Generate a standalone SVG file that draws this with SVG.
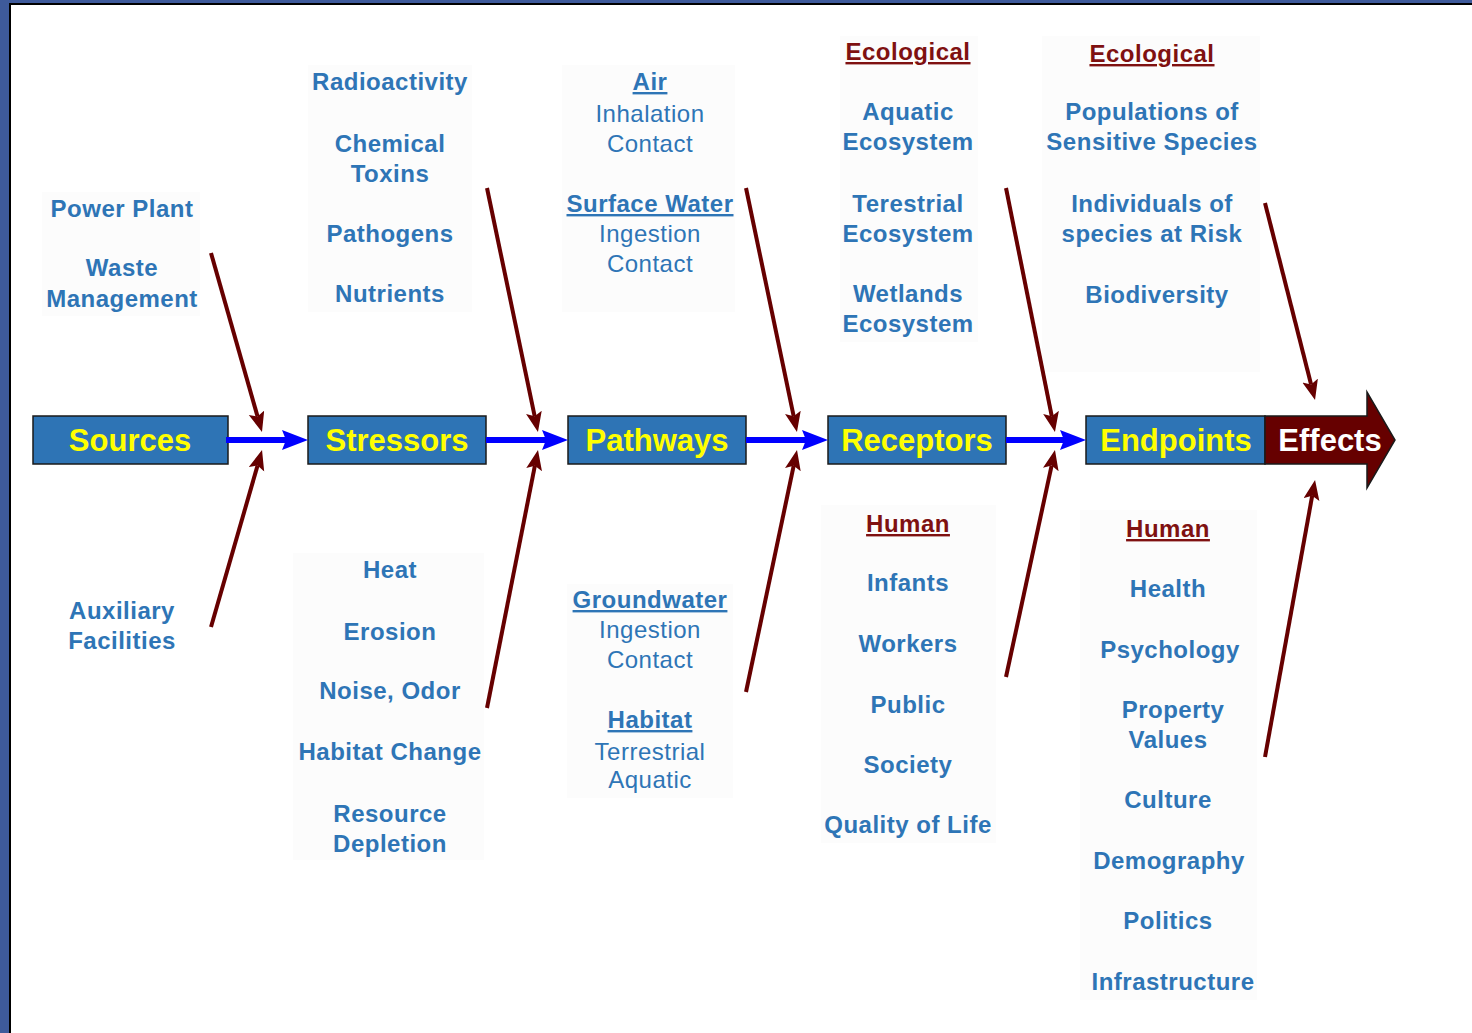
<svg xmlns="http://www.w3.org/2000/svg" width="1472" height="1033" viewBox="0 0 1472 1033">
<defs>
<style>
.t{font-family:"Liberation Sans",Arial,sans-serif;font-size:24px;font-weight:bold;fill:#2e75b6;text-anchor:middle;letter-spacing:0.5px}
.r{font-weight:normal}
.u{text-decoration:underline}
.h{fill:#7f1111}
.box{fill:#2e74b5;stroke:#1a1a1a;stroke-width:1.5}
.bl{font-family:"Liberation Sans",Arial,sans-serif;font-size:31px;font-weight:bold;fill:#ffff00;text-anchor:middle}
.bg{fill:#fcfcfc}
.blue{stroke:#0000ff;stroke-width:6;fill:none;marker-end:url(#ab)}
.red{stroke:#660000;stroke-width:4;fill:none;marker-end:url(#ar)}
</style>
<marker id="ab" markerUnits="userSpaceOnUse" markerWidth="30" markerHeight="24" refX="6" refY="10" orient="auto" viewBox="0 0 30 24">
<path d="M0,0 L26,10 L0,20 L4,10 z" fill="#0000ff"/>
</marker>
<marker id="ar" markerUnits="userSpaceOnUse" markerWidth="24" markerHeight="20" refX="4" refY="8" orient="auto" viewBox="0 0 24 20">
<path d="M0,0 L20,8 L0,16 L4,8 z" fill="#660000"/>
</marker>
</defs>
<rect x="0" y="0" width="1472" height="1033" fill="#3e5a9b"/>
<rect x="9" y="3" width="1463" height="1030" fill="#000"/>
<rect x="11" y="5" width="1461" height="1028" fill="#fff"/>

<g id="backgrounds">
<rect class="bg" x="42" y="192" width="158" height="124"/>
<rect class="bg" x="308" y="65" width="164" height="247"/>
<rect class="bg" x="562" y="65" width="173" height="247"/>
<rect class="bg" x="840" y="36" width="138" height="306"/>
<rect class="bg" x="1042" y="36" width="218" height="336"/>
<rect class="bg" x="293" y="553" width="191" height="307"/>
<rect class="bg" x="567" y="584" width="166" height="214"/>
<rect class="bg" x="821" y="505" width="175" height="338"/>
<rect class="bg" x="1080" y="510" width="177" height="490"/>
</g>

<g id="sources">
<rect class="box" x="33" y="416" width="195" height="48"/>
<text class="bl" x="130" y="451">Sources</text>
</g>
<g id="stressors">
<rect class="box" x="308" y="416" width="178" height="48"/>
<text class="bl" x="397" y="451">Stressors</text>
</g>
<g id="pathways">
<rect class="box" x="568" y="416" width="178" height="48"/>
<text class="bl" x="657" y="451">Pathways</text>
</g>
<g id="receptors">
<rect class="box" x="828" y="416" width="178" height="48"/>
<text class="bl" x="917" y="451">Receptors</text>
</g>
<g id="endpoints">
<rect class="box" x="1086" y="416" width="179" height="48"/>
<text class="bl" x="1176" y="451">Endpoints</text>
</g>
<g id="effects">
<path d="M1265,416 L1367,416 L1367,392 L1395,440 L1367,488 L1367,464 L1265,464 z" fill="#660000" stroke="#1a1a1a" stroke-width="1.5"/>
<text class="bl" x="1330" y="451" style="fill:#fff">Effects</text>
</g>

<g id="connectors">
<line class="blue" x1="226" y1="440" x2="288" y2="440"/>
<line class="blue" x1="486" y1="440" x2="548" y2="440"/>
<line class="blue" x1="746" y1="440" x2="808" y2="440"/>
<line class="blue" x1="1006" y1="440" x2="1066" y2="440"/>
<line class="red" x1="211" y1="253" x2="257.6" y2="416.6"/>
<line class="red" x1="211" y1="627" x2="257.6" y2="465.4"/>
<line class="red" x1="487" y1="188" x2="534.7" y2="416.3"/>
<line class="red" x1="487" y1="708" x2="534.9" y2="465.7"/>
<line class="red" x1="746" y1="188" x2="793.7" y2="416.3"/>
<line class="red" x1="746" y1="692" x2="793.7" y2="465.7"/>
<line class="red" x1="1006" y1="188" x2="1051.8" y2="416.3"/>
<line class="red" x1="1006" y1="677" x2="1051.6" y2="465.6"/>
<line class="red" x1="1265" y1="203" x2="1311.1" y2="384.5"/>
<line class="red" x1="1265" y1="757" x2="1312.2" y2="495.7"/>
</g>

<g id="sources-items">
<text class="t" x="122" y="217">Power Plant</text>
<text class="t" x="122" y="276">Waste</text>
<text class="t" x="122" y="307">Management</text>
<text class="t" x="122" y="619">Auxiliary</text>
<text class="t" x="122" y="649">Facilities</text>
</g>

<g id="stressors-items">
<text class="t" x="390" y="90">Radioactivity</text>
<text class="t" x="390" y="152">Chemical</text>
<text class="t" x="390" y="182">Toxins</text>
<text class="t" x="390" y="242">Pathogens</text>
<text class="t" x="390" y="302">Nutrients</text>
<text class="t" x="390" y="578">Heat</text>
<text class="t" x="390" y="640">Erosion</text>
<text class="t" x="390" y="699">Noise, Odor</text>
<text class="t" x="390" y="760">Habitat Change</text>
<text class="t" x="390" y="822">Resource</text>
<text class="t" x="390" y="852">Depletion</text>
</g>

<g id="pathways-items">
<text class="t u" x="650" y="90">Air</text>
<text class="t r" x="650" y="122">Inhalation</text>
<text class="t r" x="650" y="152">Contact</text>
<text class="t u" x="650" y="212">Surface Water</text>
<text class="t r" x="650" y="242">Ingestion</text>
<text class="t r" x="650" y="272">Contact</text>
<text class="t u" x="650" y="608">Groundwater</text>
<text class="t r" x="650" y="638">Ingestion</text>
<text class="t r" x="650" y="668">Contact</text>
<text class="t u" x="650" y="728">Habitat</text>
<text class="t r" x="650" y="760">Terrestrial</text>
<text class="t r" x="650" y="788">Aquatic</text>
</g>

<g id="receptors-items">
<text class="t u h" x="908" y="60">Ecological</text>
<text class="t" x="908" y="120">Aquatic</text>
<text class="t" x="908" y="150">Ecosystem</text>
<text class="t" x="908" y="212">Terestrial</text>
<text class="t" x="908" y="242">Ecosystem</text>
<text class="t" x="908" y="302">Wetlands</text>
<text class="t" x="908" y="332">Ecosystem</text>
<text class="t u h" x="908" y="532">Human</text>
<text class="t" x="908" y="591">Infants</text>
<text class="t" x="908" y="652">Workers</text>
<text class="t" x="908" y="713">Public</text>
<text class="t" x="908" y="773">Society</text>
<text class="t" x="908" y="833">Quality of Life</text>
</g>

<g id="endpoints-items">
<text class="t u h" x="1152" y="62">Ecological</text>
<text class="t" x="1152" y="120">Populations of</text>
<text class="t" x="1152" y="150">Sensitive Species</text>
<text class="t" x="1152" y="212">Individuals of</text>
<text class="t" x="1152" y="242">species at Risk</text>
<text class="t" x="1157" y="303">Biodiversity</text>
<text class="t u h" x="1168" y="537">Human</text>
<text class="t" x="1168" y="597">Health</text>
<text class="t" x="1170" y="658">Psychology</text>
<text class="t" x="1173" y="718">Property</text>
<text class="t" x="1168" y="748">Values</text>
<text class="t" x="1168" y="808">Culture</text>
<text class="t" x="1169" y="869">Demography</text>
<text class="t" x="1168" y="929">Politics</text>
<text class="t" x="1173" y="990">Infrastructure</text>
</g>
</svg>
